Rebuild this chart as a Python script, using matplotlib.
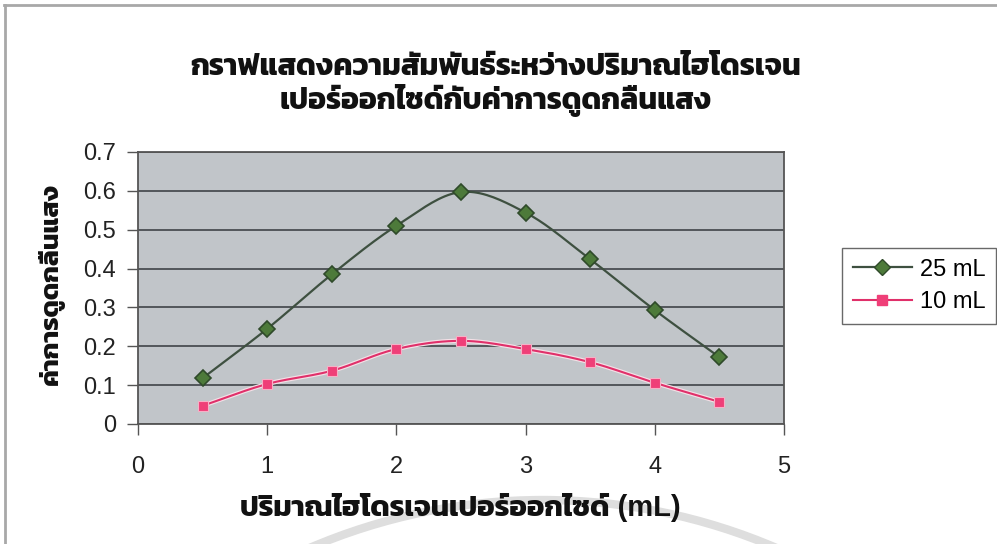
import numpy as np
import matplotlib
matplotlib.use("Agg")
import matplotlib.pyplot as plt
from matplotlib import font_manager
from matplotlib.ft2font import FT2Font
from matplotlib.patches import Arc

# ปริมาณไฮโดรเจนเปอร์ออกไซด์ (mL)
volume = [0.5, 1.0, 1.5, 2.0, 2.5, 3.0, 3.5, 4.0, 4.5]
# ค่าการดูดกลืนแสง
abs_25 = [0.118, 0.245, 0.385, 0.510, 0.597, 0.544, 0.424, 0.293, 0.172]
abs_10 = [0.047, 0.103, 0.137, 0.193, 0.214, 0.193, 0.159, 0.106, 0.057]
series_names = ["25 mL", "10 mL"]
yticklabels = ["0", "0.1", "0.2", "0.3", "0.4", "0.5", "0.6", "0.7"]

title = "กราฟแสดงความสัมพันธ์ระหว่างปริมาณไฮโดรเจน\nเปอร์ออกไซด์กับค่าการดูดกลืนแสง"
xlabel = "ปริมาณไฮโดรเจนเปอร์ออกไซด์ (mL)"
ylabel = "ค่าการดูดกลืนแสง"


def thai_family():
    # installed family with Thai glyphs, one with a bold face if possible
    found = {}
    for f in font_manager.fontManager.ttflist:
        try:
            cm = FT2Font(f.fname).get_charmap()
        except Exception:
            continue
        if 0x0E01 in cm:
            w = f.weight if isinstance(f.weight, int) else 400
            found[f.name] = max(found.get(f.name, 0), w)
    if not found:
        return None
    return max(found, key=lambda k: found[k])


th = thai_family()
fams = ["Liberation Sans"] + ([th] if th else []) + ["DejaVu Sans"]
plt.rcParams["font.family"] = fams


def smooth(x, y, n=20):
    # Catmull-Rom curve through the points, like a smoothed line
    x = np.asarray(x, float)
    y = np.asarray(y, float)
    px = np.concatenate([[2 * x[0] - x[1]], x, [2 * x[-1] - x[-2]]])
    py = np.concatenate([[2 * y[0] - y[1]], y, [2 * y[-1] - y[-2]]])
    t = np.linspace(0, 1, n, endpoint=False)
    xs, ys = [], []
    for i in range(1, len(px) - 2):
        for p, out in ((px, xs), (py, ys)):
            p0, p1, p2, p3 = p[i - 1], p[i], p[i + 1], p[i + 2]
            out.extend(0.5 * (2 * p1 + (-p0 + p2) * t
                              + (2 * p0 - 5 * p1 + 4 * p2 - p3) * t ** 2
                              + (-p0 + 3 * p1 - 3 * p2 + p3) * t ** 3))
    xs.append(x[-1])
    ys.append(y[-1])
    return np.array(xs), np.array(ys)


fig = plt.figure(figsize=(9.97, 5.44), dpi=100)
fig.patch.set_facecolor("white")

# page edges
fig.add_artist(plt.Line2D([0.004, 1.0], [0.991, 0.991], transform=fig.transFigure,
                          color="#a8a8a8", lw=2))
fig.add_artist(plt.Line2D([0.005, 0.005], [0.0, 0.991], transform=fig.transFigure,
                          color="#a8a8a8", lw=2))

# faint stamp ring at the bottom
fig.add_artist(Arc((543 / 997, 1 - 1092 / 544), 2 * 592 / 997, 2 * 592 / 544,
                   theta1=60, theta2=120, transform=fig.transFigure,
                   color="#dedede", lw=6))

ax = fig.add_axes([138 / 997, 1 - 424 / 544, (784 - 138) / 997, (424 - 152) / 544])
ax.set_facecolor("#c1c5c9")

sx, sy = smooth(volume, abs_25)
ax.plot(sx, sy, color="#3e5040", lw=1.6, zorder=3)
ax.plot(volume, abs_25, ls="none", marker="D", ms=8, mfc="#4d7a3a", mec="#2f4a2a",
        mew=1.2, zorder=4)

sx, sy = smooth(volume, abs_10)
ax.plot(sx, sy, color="#f4e0e6", lw=3.2, zorder=3)
ax.plot(sx, sy, color="#e0306a", lw=1.5, zorder=3)
ax.plot(volume, abs_10, ls="none", marker="s", ms=7.5, mfc="#ef3f78", mec="#f6b0c6",
        mew=0.8, zorder=4)

ax.set_xlim(0, 5)
ax.set_ylim(0, 0.7)
ax.set_xticks(range(0, 6))
ax.set_yticks(np.arange(0, 0.71, 0.1))
ax.set_yticklabels(yticklabels)
ax.yaxis.grid(True, color="#4a4e52", lw=1.3)
ax.set_axisbelow(True)
ax.tick_params(axis="y", length=8, width=1, color="#555555", pad=8,
               labelsize=17, labelcolor="#222222")
ax.tick_params(axis="x", length=8, width=1, color="#555555", pad=15,
               labelsize=17, labelcolor="#222222")
for s in ax.spines.values():
    s.set_color("#555555")
    s.set_linewidth(1.3)

fig.text(496 / 997, 1 - 85 / 544, title, ha="center", va="center", fontsize=21.5,
         fontweight="bold", color="#111111", linespacing=1.1)
fig.text(460 / 997, 1 - 508 / 544, xlabel, ha="center", va="center", fontsize=21,
         fontweight="bold", color="#111111")
fig.text(51 / 997, 1 - 284 / 544, ylabel, ha="center", va="center", rotation=90,
         fontsize=19, fontweight="bold", color="#111111")

# legend entries: line with the point symbol in the middle
h1 = plt.Line2D([], [], color="#3e5040", lw=1.6, marker="D", ms=8,
                mfc="#4d7a3a", mec="#2f4a2a")
h2 = plt.Line2D([], [], color="#e0306a", lw=1.5, marker="s", ms=7,
                mfc="#ef3f78", mec="#ef3f78")
leg = fig.legend([h1, h2], series_names, loc="center",
                 bbox_to_anchor=(919 / 997, 1 - 286 / 544), frameon=True,
                 fontsize=17, handlelength=2.5, handletextpad=0.35,
                 borderpad=0.45, labelspacing=0.45, fancybox=False)
leg.get_frame().set_edgecolor("#444444")
leg.get_frame().set_linewidth(1.0)

fig.savefig("out.png", dpi=100)
